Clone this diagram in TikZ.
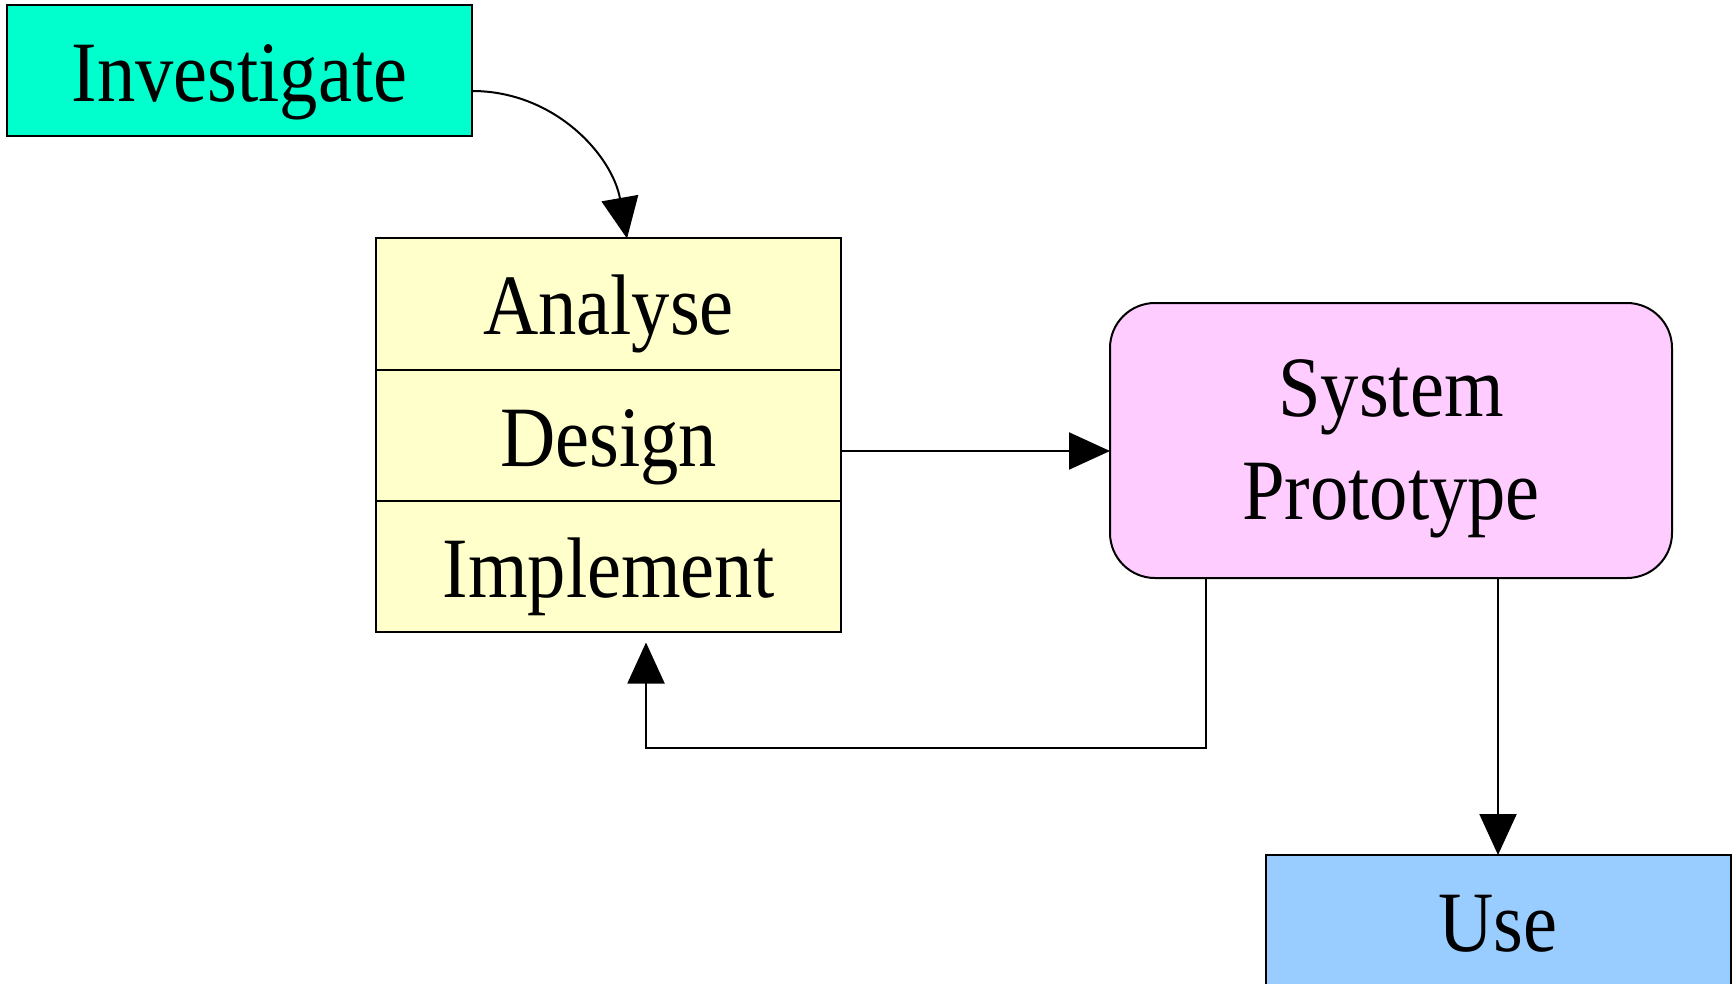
\documentclass[tikz,border=0pt]{standalone}
\usepackage{fontspec}
\setmainfont{Liberation Serif}[FakeStretch=0.89]
\usetikzlibrary{positioning,arrows.meta}
\definecolor{investcol}{HTML}{00FFCC}
\definecolor{stagecol}{HTML}{FFFFCC}
\definecolor{protocol}{HTML}{FFCCFF}
\definecolor{usecol}{HTML}{99CCFF}
\begin{document}
\begin{tikzpicture}
[
    x=0.5pt, y=-0.5pt,
    stage/.style={draw, line width=1pt, inner sep=0pt, outer sep=0pt,
        minimum width=232.5pt, minimum height=65.5pt,
        text height=31pt, text depth=0pt,
        font=\fontsize{43}{51.5}\selectfont},
    protobox/.style={draw, line width=1pt, inner sep=0pt, outer sep=0pt,
        minimum width=281pt, minimum height=137.5pt, rounded corners=22.5pt,
        align=center, text depth=1pt, font=\fontsize{43}{51.5}\selectfont},
    link/.style={line width=1pt, -{Triangle[length=20.5pt,width=18.5pt]}},
]
\useasboundingbox (0,0) rectangle (1734,984);
\node[stage, fill=investcol] (invest) at (239.5,70.5) {Investigate};
\node[stage, fill=stagecol] (analyse) at (608.5,304) {Analyse};
\node[stage, fill=stagecol, below=0pt of analyse] (design) {Design};
\node[stage, fill=stagecol, below=0pt of design] (implement) {Implement};
\node[protobox, fill=protocol] (proto) at (1391,440.5) {System\\Prototype};
\node[stage, fill=usecol] (use) at (1498,920.5) {Use};
% links
\draw[link] ([yshift=-10.25pt]invest.east) to[out=0,in=100] ([xshift=9.25pt]analyse.north);
\draw[link] ([yshift=-8pt]design.east) coordinate (d2p) -- (d2p -| proto.west);
\draw[link] (use.north |- proto.south) -- (use.north);
\draw[link] ([xshift=-92.5pt]proto.south) |- ([xshift=18.75pt,yshift=-58pt]implement.south)
    -- ([xshift=18.75pt,yshift=-5.5pt]implement.south);
\end{tikzpicture}
\end{document}
